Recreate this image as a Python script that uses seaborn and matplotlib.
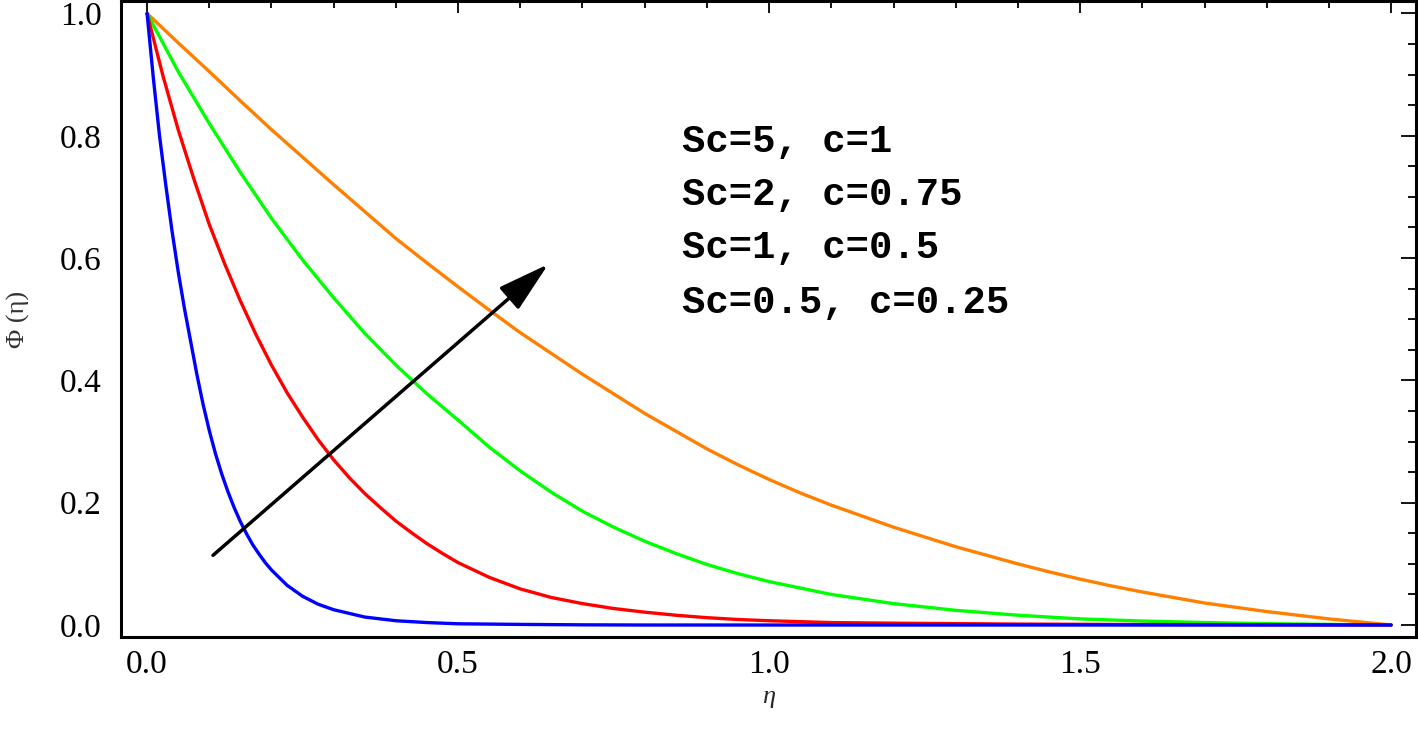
import pandas as pd
import matplotlib
matplotlib.use('Agg')
import matplotlib.pyplot as plt
from matplotlib.ticker import MultipleLocator, FormatStrFormatter
import seaborn as sns

# Curves
blue_eta = [0, 0.01, 0.02, 0.03, 0.04, 0.05, 0.06, 0.07, 0.08, 0.09, 0.10, 0.11, 0.12, 0.13, 0.14,
            0.15, 0.16, 0.17, 0.18, 0.19, 0.2, 0.225, 0.25, 0.275, 0.3, 0.35, 0.4, 0.45, 0.5, 0.6,
            0.7, 0.8, 1.0, 1.5, 2.0]
blue_phi = [1.0, 0.895, 0.80, 0.72, 0.645, 0.578, 0.518, 0.464, 0.41, 0.361, 0.318, 0.28, 0.247, 0.218, 0.192,
            0.169, 0.149, 0.131, 0.116, 0.102, 0.09, 0.065, 0.047, 0.034, 0.025, 0.013, 0.007, 0.004, 0.002, 0.001,
            0.0003, 0.0, 0.0, 0.0, 0.0]

red_eta = [0, 0.025, 0.05, 0.075, 0.1, 0.125, 0.15, 0.175, 0.2, 0.225, 0.25, 0.275, 0.3, 0.325, 0.35,
           0.375, 0.4, 0.425, 0.45, 0.475, 0.5, 0.55, 0.6, 0.65, 0.7, 0.75, 0.8, 0.85, 0.9, 0.95,
           1.0, 1.1, 1.2, 1.4, 1.6, 2.0]
red_phi = [1.0, 0.90, 0.81, 0.73, 0.655, 0.59, 0.53, 0.475, 0.425, 0.38, 0.34, 0.303, 0.27, 0.241, 0.215,
           0.192, 0.17, 0.151, 0.133, 0.117, 0.102, 0.078, 0.059, 0.045, 0.035, 0.027, 0.021, 0.016, 0.012, 0.009,
           0.007, 0.004, 0.003, 0.0015, 0.0008, 0.0]

green_eta = [0, 0.05, 0.1, 0.15, 0.2, 0.25, 0.3, 0.35, 0.4, 0.45, 0.5, 0.55, 0.6, 0.65, 0.7,
             0.75, 0.8, 0.85, 0.9, 0.95, 1.0, 1.1, 1.2, 1.3, 1.4, 1.5, 1.6, 1.7, 1.8, 1.9, 2.0]
green_phi = [1.0, 0.905, 0.82, 0.74, 0.665, 0.597, 0.535, 0.477, 0.425, 0.378, 0.335, 0.291, 0.252, 0.217, 0.186,
             0.16, 0.137, 0.117, 0.099, 0.084, 0.071, 0.05, 0.035, 0.024, 0.016, 0.010, 0.0065, 0.004, 0.0022, 0.001, 0.0]

orange_eta = [0, 0.05, 0.1, 0.15, 0.2, 0.25, 0.3, 0.35, 0.4, 0.45, 0.5, 0.55, 0.6, 0.65, 0.7,
              0.75, 0.8, 0.85, 0.9, 0.95, 1.0, 1.05, 1.1, 1.15, 1.2, 1.25, 1.3, 1.35, 1.4, 1.45,
              1.5, 1.55, 1.6, 1.65, 1.7, 1.75, 1.8, 1.85, 1.9, 1.95, 2.0]
orange_phi = [1.0, 0.952, 0.905, 0.857, 0.81, 0.765, 0.72, 0.676, 0.632, 0.592, 0.553, 0.515, 0.478, 0.444, 0.41,
              0.378, 0.346, 0.317, 0.288, 0.262, 0.238, 0.216, 0.196, 0.178, 0.16, 0.144, 0.128, 0.114, 0.1, 0.087,
              0.075, 0.064, 0.054, 0.045, 0.036, 0.029, 0.022, 0.016, 0.01, 0.005, 0.0]

case_labels = ['Sc=5, c=1', 'Sc=2, c=0.75', 'Sc=1, c=0.5', 'Sc=0.5, c=0.25']
case_colors = ['#ff8000', '#00ff00', '#ff0000', '#0000ff']

# Long-form table, drawing order orange, green, red, blue
frames = []
for lab, xs, ys in zip(case_labels,
                       [orange_eta, green_eta, red_eta, blue_eta],
                       [orange_phi, green_phi, red_phi, blue_phi]):
    frames.append(pd.DataFrame({'eta': xs, 'phi': ys, 'case': lab}))
data = pd.concat(frames, ignore_index=True)

sns.set_theme(style='white')
plt.rcParams['font.family'] = ['Liberation Serif', 'DejaVu Serif']

fig = plt.figure(figsize=(14.18, 7.29), dpi=100)
ax = fig.add_axes([0.0853, 0.1262, 0.9133, 0.8718])

sns.lineplot(data=data, x='eta', y='phi', hue='case', hue_order=case_labels,
             palette=case_colors, estimator=None, sort=False, linewidth=2.4,
             legend=False, ax=ax)

# arrow showing increasing parameters
ax.annotate('', xy=(0.645, 0.59), xytext=(0.106, 0.114),
            arrowprops=dict(arrowstyle='-|>,head_length=1.6,head_width=0.45',
                            color='black', lw=2.5, mutation_scale=20,
                            shrinkA=0, shrinkB=0))

# labels stacked top to bottom
label_y = [0.773, 0.686, 0.600, 0.511]
for txt, yy in zip(case_labels, label_y):
    ax.text(0.86, yy, txt, fontsize=28, fontweight='bold', family='Liberation Mono',
            ha='left', va='baseline', color='black')

ax.set_xlim(-0.042, 2.04)
ax.set_ylim(-0.0196, 1.0196)
ax.xaxis.set_major_locator(MultipleLocator(0.5))
ax.xaxis.set_minor_locator(MultipleLocator(0.1))
ax.yaxis.set_major_locator(MultipleLocator(0.2))
ax.yaxis.set_minor_locator(MultipleLocator(0.05))
ax.xaxis.set_major_formatter(FormatStrFormatter('%.1f'))
ax.yaxis.set_major_formatter(FormatStrFormatter('%.1f'))

ax.tick_params(which='both', direction='in', top=True, right=True, color='black',
               width=1.3, labelsize=24, labelcolor='black')
ax.tick_params(axis='x', which='major', length=8.5, pad=9)
ax.tick_params(axis='x', which='minor', length=5)
ax.tick_params(axis='y', which='major', length=11, pad=14)
ax.tick_params(axis='y', which='minor', length=6)

for sp in ax.spines.values():
    sp.set_color('black')
    sp.set_linewidth(2.2)

ax.set_xlabel('η', fontsize=19, style='italic', va='center')
ax.set_ylabel('Φ (η)', fontsize=19, va='center', color='#333333')
ax.xaxis.set_label_coords(0.5, -0.095)
ax.yaxis.set_label_coords(-0.079, 0.5)

fig.savefig('out.png', dpi=100)
